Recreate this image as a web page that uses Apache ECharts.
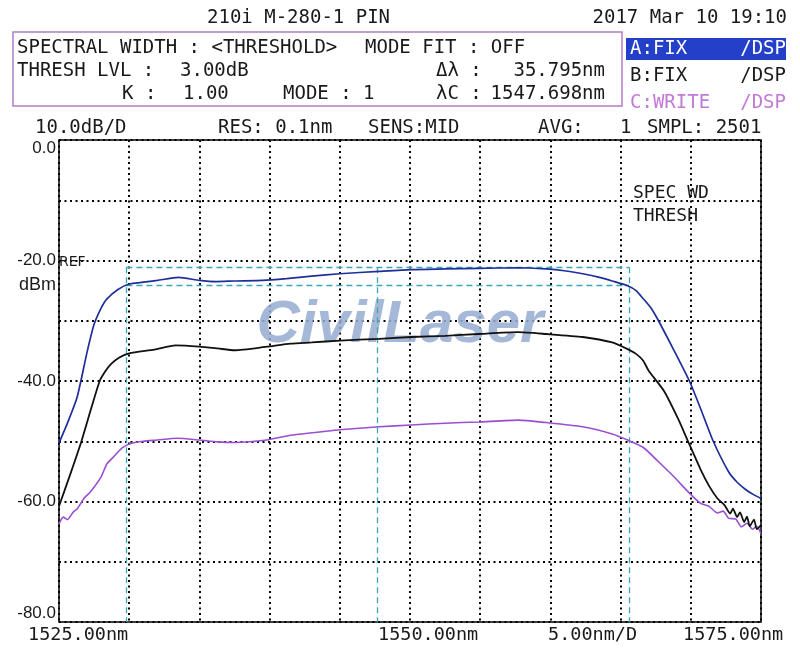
<!DOCTYPE html>
<html>
<head>
<meta charset="utf-8">
<script src="https://cdn.jsdelivr.net/npm/echarts@6/dist/echarts.min.js"></script>
<style>
html,body{margin:0;padding:0;background:#fff;}
#chart{width:800px;height:649px;}
</style>
</head>
<body>
<div id="chart"></div>
<script>
// ---- data ----
const traceA_nm  = [1525.0,1525.6,1526.3,1527.0,1527.5,1528.0,1528.4,1529.2,1530.0,1531.0,1532.0,1533.5,1535.0,1536.2,1537.5,1539.5,1541.2,1543.0,1545.0,1547.8,1550.1,1552.5,1554.9,1557.7,1559.7,1561.0,1562.3,1563.5,1564.4,1565.5,1566.1,1566.6,1567.2,1567.7,1568.8,1569.9,1570.7,1571.6,1572.7,1573.3,1573.9,1574.5,1575.0];
const traceA_dBm = [-50.3,-47.0,-42.6,-35.2,-30.6,-27.9,-26.4,-24.8,-23.9,-23.6,-23.3,-22.8,-23.3,-23.5,-23.4,-23.3,-23.0,-22.6,-22.2,-21.8,-21.5,-21.4,-21.3,-21.2,-21.4,-21.7,-22.2,-22.8,-23.4,-24.2,-25.0,-26.3,-28.0,-30.0,-34.9,-40.0,-44.6,-50.0,-55.1,-56.8,-58.0,-58.9,-59.5];

const traceB_nm  = [1525.0,1525.8,1526.6,1527.3,1527.9,1528.3,1528.7,1529.3,1530.0,1531.8,1533.3,1535.0,1536.3,1537.5,1539.8,1541.5,1543.0,1545.0,1547.8,1550.1,1552.5,1554.9,1557.7,1559.7,1562.3,1564.4,1565.5,1566.1,1566.6,1567.0,1568.1,1569.1,1569.8,1570.7,1571.3,1571.9,1572.4,1572.8,1573.0,1573.3,1573.5,1573.8,1574.0,1574.2,1574.5,1574.7,1575.0];
const traceB_dBm = [-60.8,-55.5,-50.0,-44.5,-40.0,-38.4,-37.2,-36.1,-35.4,-34.8,-34.1,-34.3,-34.6,-34.9,-34.3,-33.8,-33.6,-33.3,-33.0,-32.7,-32.5,-32.2,-31.9,-32.2,-32.7,-33.6,-34.7,-35.5,-36.6,-38.3,-41.7,-46.3,-50.0,-54.7,-57.4,-59.5,-60.6,-62.0,-61.2,-62.6,-61.8,-63.4,-62.5,-64.1,-63.0,-64.6,-63.9];

const traceC_nm  = [1525.0,1525.3,1525.6,1526.0,1526.3,1526.8,1527.2,1528.0,1528.4,1528.8,1529.5,1530.2,1531.0,1532.0,1533.4,1535.0,1536.3,1537.5,1539.8,1541.5,1543.0,1545.0,1547.8,1550.1,1552.5,1554.9,1557.7,1559.7,1562.3,1564.4,1565.5,1566.6,1567.7,1568.8,1569.9,1570.7,1571.3,1571.9,1572.3,1572.7,1573.2,1573.6,1574.0,1574.4,1574.7,1575.0];
const traceC_dBm = [-63.7,-62.6,-63.0,-61.8,-61.2,-59.4,-58.5,-55.9,-53.8,-52.8,-51.1,-50.3,-50.0,-49.8,-49.5,-49.8,-50.1,-50.2,-49.8,-49.0,-48.6,-48.1,-47.6,-47.3,-47.0,-46.8,-46.5,-46.9,-47.6,-48.8,-49.8,-51.0,-53.4,-55.9,-58.6,-60.3,-60.8,-61.9,-61.6,-62.8,-62.9,-64.2,-63.6,-64.6,-64.1,-65.3];

// spectral width analysis (threshold method)
const lambdaC = 1547.698;
const deltaLambda = 35.795;
const peakLevel = -21.1;
const threshLevel = -24.1;

// axis ranges / tick labels
const xMin = 1525, xMax = 1575, xStep = 5;
const yMin = -80, yMax = 0, yStep = 10;
const xTickLabels = ['1525.00nm', '1550.00nm', '5.00nm/D', '1575.00nm'];

// ---- chart ----
const chart = echarts.init(document.getElementById('chart'), null, {renderer: 'canvas'});
const MONO = "'DejaVu Sans Mono', 'Liberation Mono', monospace";
const SANS = "'Liberation Sans', Arial, sans-serif";
const l1 = lambdaC - deltaLambda / 2, l2 = lambdaC + deltaLambda / 2;

function zip(a, b) { return a.map((v, i) => [v, b[i]]); }
function txt(text, x, y, opt) {
  opt = opt || {};
  return {
    type: 'text', z: 10, silent: true,
    style: {
      text: text, x: x, y: y,
      fill: opt.fill || '#1a1a1a',
      font: (opt.weight || 'normal') + ' ' + (opt.size || 19) + 'px ' + (opt.family || MONO),
      align: opt.align || 'left',
      verticalAlign: 'middle'
    }
  };
}

const graphics = [
  txt('210i M-280-1 PIN', 207, 18),
  txt('2017 Mar 10 19:10', 787, 18, {align: 'right'}),
  {type: 'rect', z: 5, silent: true, shape: {x: 13, y: 32, width: 609, height: 74},
   style: {fill: 'none', stroke: '#b47cc6', lineWidth: 1.5}},
  txt('SPECTRAL WIDTH : <THRESHOLD>', 17, 48),
  txt('MODE FIT : OFF', 365, 48),
  txt('THRESH LVL :', 17, 71),
  txt('3.00dB', 180, 71),
  txt('K :', 122, 94),
  txt('1.00', 183, 94),
  txt('MODE : 1', 283, 94),
  txt('Δλ :', 436, 71),
  txt(deltaLambda.toFixed(3) + 'nm', 605, 71, {align: 'right'}),
  txt('λC :', 436, 94),
  txt(lambdaC.toFixed(3) + 'nm', 605, 94, {align: 'right'}),
  {type: 'rect', z: 5, silent: true, shape: {x: 626, y: 38, width: 160, height: 22},
   style: {fill: '#2440c8'}},
  txt('A:FIX', 630, 49, {fill: '#ffffff'}),
  txt('/DSP', 786, 49, {fill: '#ffffff', align: 'right'}),
  txt('B:FIX', 630, 76),
  txt('/DSP', 786, 76, {align: 'right'}),
  txt('C:WRITE', 630, 103, {fill: '#c27ad6'}),
  txt('/DSP', 786, 103, {fill: '#c27ad6', align: 'right'}),
  txt('10.0dB/D', 35, 128),
  txt('RES: 0.1nm', 218, 128),
  txt('SENS:MID', 368, 128),
  txt('AVG:', 538, 128),
  txt('1', 620, 128),
  txt('SMPL: 2501', 647, 128),
  txt('SPEC WD', 633, 193, {size: 18}),
  txt('THRESH', 633, 216, {size: 18}),
  txt('REF', 59, 262, {size: 14, family: "'DejaVu Sans', sans-serif"}),
  txt('dBm', 56, 285, {size: 18, family: SANS, align: 'right'}),
  txt(xTickLabels[0], 28, 635, {size: 18.5}),
  txt(xTickLabels[1], 378, 635, {size: 18.5}),
  txt(xTickLabels[2], 548, 635, {size: 18.5}),
  txt(xTickLabels[3], 683, 635, {size: 18.5}),
  {type: 'text', z: 1, silent: true,
   style: {text: 'CivilLaser', x: 400, y: 325, fill: 'rgba(150,172,208,0.85)',
           font: 'italic bold 60px ' + SANS, align: 'center', verticalAlign: 'middle'}}
];

const dotted = {color: '#000', width: 2, type: [2, 3.5]};
const cyanDash = {color: '#3aa6b6', width: 1.3, type: [6, 4]};

const option = {
  backgroundColor: '#fff',
  animation: false,
  grid: {left: 59, top: 140, width: 702, height: 482, show: true, borderColor: '#000', borderWidth: 1.5, backgroundColor: 'transparent', z: 3},
  xAxis: {
    type: 'value', min: xMin, max: xMax, interval: xStep,
    axisLine: {show: false}, axisTick: {show: false}, axisLabel: {show: false},
    splitLine: {show: true, lineStyle: dotted}
  },
  yAxis: {
    type: 'value', min: yMin, max: yMax, interval: yStep,
    axisLine: {show: false}, axisTick: {show: false},
    axisLabel: {
      show: true, margin: 3, color: '#1a1a1a', fontFamily: SANS, fontSize: 17,
      formatter: v => (v % 20 === 0 ? v.toFixed(1) : ''),
      verticalAlignMinLabel: 'bottom', verticalAlignMaxLabel: 'top'
    },
    splitLine: {show: true, lineStyle: dotted}
  },
  graphic: graphics,
  series: [
    {type: 'line', name: 'spec', data: [[l1, peakLevel]], showSymbol: false, symbol: 'none',
     lineStyle: {opacity: 0}, silent: true, z: 4,
     markLine: {silent: true, symbol: 'none', label: {show: false}, lineStyle: cyanDash, animation: false,
       data: [
         [{coord: [l1, peakLevel]}, {coord: [l2, peakLevel]}],
         [{coord: [l1, threshLevel]}, {coord: [l2, threshLevel]}],
         [{coord: [l1, peakLevel]}, {coord: [l1, yMin]}],
         [{coord: [lambdaC, peakLevel]}, {coord: [lambdaC, yMin]}],
         [{coord: [l2, peakLevel]}, {coord: [l2, yMin]}]
       ]}},
    {type: 'line', name: 'C', data: zip(traceC_nm, traceC_dBm), showSymbol: false, symbol: 'none',
     smooth: 0.2, lineStyle: {color: '#9a4fd2', width: 1.6}, z: 5},
    {type: 'line', name: 'B', data: zip(traceB_nm, traceB_dBm), showSymbol: false, symbol: 'none',
     smooth: 0.2, lineStyle: {color: '#111111', width: 1.8}, z: 6},
    {type: 'line', name: 'A', data: zip(traceA_nm, traceA_dBm), showSymbol: false, symbol: 'none',
     smooth: 0.2, lineStyle: {color: '#1f2f9a', width: 1.7}, z: 7}
  ]
};
chart.setOption(option);
</script>
</body>
</html>
